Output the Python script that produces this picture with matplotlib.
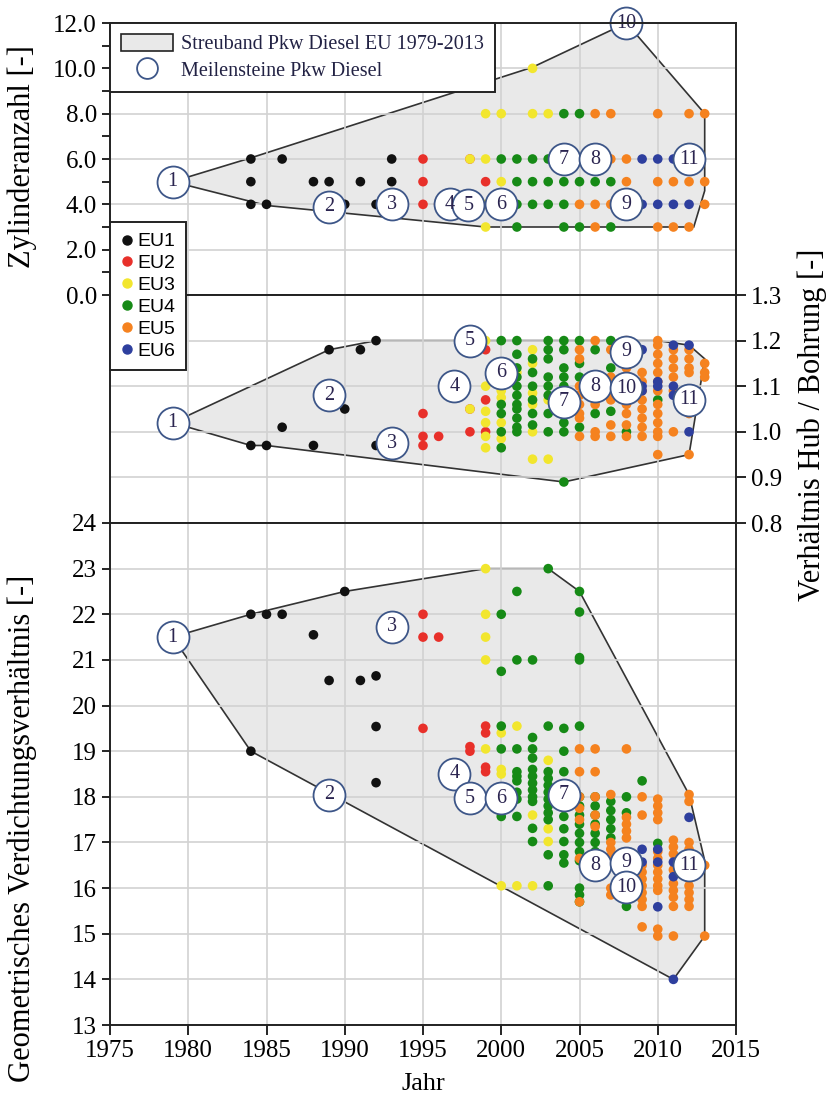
import matplotlib
matplotlib.use("Agg")
import matplotlib.pyplot as plt
from matplotlib.patches import Polygon, Patch
from matplotlib.lines import Line2D
import matplotlib.ticker as mticker

# ---------------- data ----------------
classes = ["EU1", "EU2", "EU3", "EU4", "EU5", "EU6"]
class_colors = ["#111111", "#e8302a", "#f2e62e", "#168a16", "#f5821f", "#2e3f9e"]

# Panel 1: Zylinderanzahl
cyl_eu1 = [(1984, 6), (1986, 6), (1993, 6), (1984, 5), (1988, 5), (1989, 5), (1991, 5), (1993, 5),
           (1984, 4), (1985, 4), (1990, 4), (1992, 4)]
cyl_eu2 = [(1995, 6), (1995, 5), (1995, 4), (1996, 4), (1999, 5), (1998, 6)]
cyl_eu3 = [(1998, 6), (1999, 6), (1999, 8), (2000, 8), (2002, 8), (2003, 8), (2002, 10), (2000, 5),
           (1999, 4), (1999, 3)]
cyl_eu4 = [(2000, 6), (2001, 6), (2002, 6), (2003, 6), (2005, 6), (2004, 8), (2005, 8), (2001, 5), (2002, 5),
           (2003, 5), (2004, 5), (2005, 5), (2006, 5), (2007, 5), (2001, 4), (2002, 4), (2003, 4), (2004, 4),
           (2001, 3), (2004, 3), (2005, 3), (2007, 3)]
cyl_eu5 = [(2006, 8), (2007, 8), (2010, 8), (2012, 8), (2013, 8), (2007, 6), (2008, 6), (2008, 5), (2010, 5),
           (2011, 5), (2012, 5), (2013, 5), (2005, 4), (2006, 4), (2007, 4), (2013, 4), (2006, 3), (2010, 3),
           (2011, 3), (2012, 3)]
cyl_eu6 = [(2009, 6), (2010, 6), (2011, 6), (2009, 4), (2010, 4), (2011, 4), (2012, 4)]
cyl_band = [(1979, 5), (1984, 6.05), (2002, 10.05), (2008, 12), (2013, 8), (2013, 4.6), (2012.3, 3),
            (1999, 3), (1985, 3.95)]
cyl_milestones = [(1979, 5), (1989, 3.9), (1993, 4), (1996.7, 4), (1997.9, 3.95), (2000, 4), (2004, 6),
                  (2006, 6), (2008, 4), (2008, 12), (2012, 6)]

# Panel 2: Hub / Bohrung
hb_eu1 = [(1989, 1.18), (1991, 1.18), (1992, 1.2), (1990, 1.05), (1986, 1.01), (1984, 0.97), (1985, 0.97),
          (1988, 0.97), (1992, 0.97)]
hb_eu2 = [(1995, 1.04), (1995, 0.99), (1995, 0.97), (1996, 0.99), (1998, 1.0), (1998, 1.05), (1999, 1.18),
          (1999, 1.07), (1999, 1.0)]
hb_eu3 = [(1998, 1.05), (1999, 1.2), (1999, 1.1), (1999, 1.045), (1999, 1.02), (1999, 0.99), (1999, 0.965),
          (2000, 1.09), (2000, 1.075), (2000, 1.02), (2000, 0.985), (2002, 1.18), (2002, 1.15), (2002, 1.085),
          (2002, 1.06), (2002, 1.0), (2002, 0.94), (2003, 1.07), (2003, 0.94), (2001, 1.13)]
hb_eu4 = [(2000, 1.2), (2000, 1.06), (2000, 1.04), (2000, 1.0), (2000, 0.965),
          (2001, 1.2), (2001, 1.17), (2001, 1.14), (2001, 1.12), (2001, 1.10), (2001, 1.08), (2001, 1.06),
          (2001, 1.05), (2001, 1.03), (2001, 1.01), (2001, 1.0),
          (2002, 1.16), (2002, 1.13), (2002, 1.1), (2002, 1.07), (2002, 1.04), (2002, 1.015),
          (2003, 1.2), (2003, 1.18), (2003, 1.16), (2003, 1.12), (2003, 1.10), (2003, 1.08), (2003, 1.04),
          (2003, 1.0),
          (2004, 1.2), (2004, 1.18), (2004, 1.14), (2004, 1.12), (2004, 1.10), (2004, 1.02), (2004, 1.0),
          (2004, 0.89),
          (2005, 1.2), (2005, 1.15), (2005, 1.12), (2005, 1.01), (2006, 1.18), (2006, 1.04),
          (2007, 1.2), (2007, 1.14), (2007, 1.045), (2008, 1.0), (2010, 1.07)]
hb_eu5 = [(2005, 1.18), (2005, 1.16), (2005, 1.10), (2005, 1.08), (2005, 1.06), (2005, 1.04), (2005, 1.03),
          (2005, 0.99),
          (2006, 1.2), (2006, 1.08), (2006, 1.06), (2006, 1.0), (2006, 0.99),
          (2007, 1.18), (2007, 1.12), (2007, 1.10), (2007, 1.08), (2007, 1.07), (2007, 1.015), (2007, 0.99),
          (2008, 1.2), (2008, 1.14), (2008, 1.06), (2008, 1.04), (2008, 1.015), (2008, 0.99),
          (2009, 1.13), (2009, 1.11), (2009, 1.09), (2009, 1.07), (2009, 1.05), (2009, 1.03), (2009, 1.01),
          (2009, 0.99),
          (2010, 1.2), (2010, 1.19), (2010, 1.17), (2010, 1.15), (2010, 1.13), (2010, 1.11), (2010, 1.09),
          (2010, 1.06), (2010, 1.04), (2010, 1.02), (2010, 1.0), (2010, 0.99), (2010, 0.95),
          (2011, 1.18), (2011, 1.16), (2011, 1.14), (2011, 1.12), (2011, 1.09), (2011, 1.0),
          (2012, 1.18), (2012, 1.16), (2012, 1.14), (2012, 1.13), (2012, 1.04), (2012, 0.95),
          (2013, 1.15), (2013, 1.13), (2013, 1.12)]
hb_eu6 = [(2009, 1.18), (2009, 1.10), (2009, 1.09), (2010, 1.10), (2010, 1.11), (2011, 1.19), (2011, 1.10),
          (2011, 1.08), (2012, 1.19), (2012, 1.0)]
hb_band = [(1979, 1.02), (1989, 1.18), (1992, 1.2), (2010, 1.2), (2012, 1.19), (2013, 1.16), (2012, 0.95),
           (2004, 0.89), (1985, 0.97), (1984, 0.97)]
hb_milestones = [(1979, 1.02), (1989, 1.08), (1993, 0.975), (1997, 1.1), (1998, 1.2), (2000, 1.13),
                 (2004, 1.066), (2006, 1.1), (2008, 1.176), (2008, 1.095), (2012, 1.07)]

# Panel 3: Verdichtungsverhältnis
ve_eu1 = [(1984, 22), (1985, 22), (1986, 22), (1990, 22.5), (1988, 21.55), (1989, 20.55), (1991, 20.55),
          (1992, 20.65), (1992, 19.54), (1992, 18.31), (1984, 19.0)]
ve_eu2 = [(1995, 22), (1995, 21.5), (1996, 21.5), (1995, 19.5), (1998, 19.0), (1998, 19.1), (1999, 19.55),
          (1999, 19.4), (1999, 18.65), (1999, 18.55)]
ve_eu3 = [(1999, 23), (1999, 22), (1999, 21.5), (1999, 21), (2001, 19.55), (1999, 19.05), (2000, 19.4),
          (2000, 18.6), (2000, 18.5), (2003, 18.8), (2002, 17.6), (2003, 17.3), (2003, 17.02), (2000, 16.05),
          (2001, 16.05), (2002, 16.05)]
ve_eu4 = [(2003, 23), (2001, 22.5), (2005, 22.5), (2000, 22), (2005, 22.05), (2001, 21), (2002, 21), (2005, 21),
          (2005, 21.05), (2000, 20.75), (2000, 19.55), (2003, 19.55), (2004, 19.5), (2005, 19.55),
          (2002, 19.3), (2000, 19.05), (2001, 19.05), (2002, 19.05), (2002, 18.85), (2004, 19.0), (2009, 18.35),
          (2001, 18.55), (2001, 18.45), (2001, 18.35), (2001, 18.1), (2001, 17.95), (2001, 17.57), (2000, 17.57),
          (2002, 18.6), (2002, 18.45), (2002, 18.3), (2002, 18.15), (2002, 18.0), (2002, 17.9), (2002, 17.31),
          (2002, 17.02),
          (2003, 18.55), (2003, 18.4), (2003, 18.25), (2003, 18.1), (2003, 17.95), (2003, 17.8), (2003, 17.65),
          (2003, 17.5), (2003, 16.73), (2003, 16.05),
          (2004, 18.55), (2004, 17.57), (2004, 17.3), (2004, 17.02), (2004, 16.73), (2004, 16.55),
          (2005, 18.0), (2005, 17.8), (2005, 17.6), (2005, 17.4), (2005, 17.2), (2005, 17.0), (2005, 16.8),
          (2005, 16.6), (2005, 16.0), (2005, 15.85), (2005, 15.7),
          (2006, 18.0), (2006, 17.8), (2006, 17.6), (2006, 17.4), (2006, 17.2), (2006, 17.0), (2006, 16.8),
          (2007, 17.9), (2007, 17.7), (2007, 17.5), (2007, 17.3), (2007, 17.1),
          (2008, 18.0), (2008, 17.65), (2008, 15.6), (2010, 16.98)]
ve_eu5 = [(2005, 19.05), (2005, 18.55), (2005, 18.0), (2005, 17.75), (2005, 17.5), (2005, 16.65), (2005, 15.7),
          (2006, 19.05), (2006, 18.55), (2006, 18.0), (2006, 17.6), (2006, 17.35), (2006, 16.3),
          (2007, 18.05), (2007, 17.0), (2007, 16.85), (2007, 16.7), (2007, 16.0), (2007, 15.85),
          (2008, 19.05), (2008, 17.55), (2008, 17.4), (2008, 17.25), (2008, 17.1),
          (2009, 18.0), (2009, 17.6), (2009, 16.5), (2009, 16.35), (2009, 16.2), (2009, 16.05), (2009, 15.9),
          (2009, 15.75), (2009, 15.6), (2009, 15.15),
          (2010, 17.95), (2010, 17.8), (2010, 17.65), (2010, 17.5), (2010, 16.8), (2010, 16.65), (2010, 16.5),
          (2010, 16.35), (2010, 16.2), (2010, 16.05), (2010, 15.95), (2010, 15.1), (2010, 14.95),
          (2011, 17.05), (2011, 16.9), (2011, 16.75), (2011, 16.4), (2011, 16.1), (2011, 15.95), (2011, 15.8),
          (2011, 15.6), (2011, 14.95),
          (2012, 18.05), (2012, 17.9), (2012, 17.0), (2012, 16.85), (2012, 16.7), (2012, 16.35), (2012, 16.2),
          (2012, 16.05), (2012, 15.9), (2012, 15.75), (2012, 15.6),
          (2013, 16.5), (2013, 14.95)]
ve_eu6 = [(2009, 16.85), (2009, 16.57), (2010, 16.85), (2010, 16.57), (2010, 15.59), (2011, 16.57),
          (2011, 16.25), (2011, 14.0), (2012, 17.55)]
ve_band = [(1979, 21.5), (1984, 22), (1990, 22.5), (1999, 23), (2003, 23), (2005, 22.5), (2012, 18.05),
           (2013, 16.6), (2013, 14.95), (2011, 14.0), (1984, 19.0)]
ve_milestones = [(1979, 21.5), (1989, 18.05), (1993, 21.73), (1997, 18.5), (1998, 17.97), (2000, 17.97),
                 (2004, 18.04), (2006, 16.5), (2008, 16.55), (2008, 16.02), (2012, 16.5)]

x_ticks = [1975, 1980, 1985, 1990, 1995, 2000, 2005, 2010, 2015]

# ---------------- figure ----------------
SERIF = ["Liberation Serif", "DejaVu Serif"]
SANS = ["Liberation Sans", "DejaVu Sans"]
plt.rcParams["font.family"] = SERIF
TICK_FS = 18
LABEL_FS = 22
ms_text = "#2b2550"
ms_edge = "#3d5688"
band_face = "#e9e9e9"
band_edge = "#333333"
grid_c = "#d2d2d2"

fig = plt.figure(figsize=(8.30, 11.06), dpi=100)
L, W = 110 / 830, 626 / 830
H = 1106
ax1 = fig.add_axes([L, 1 - 295 / H, W, 272 / H])
ax2 = fig.add_axes([L, 1 - 523 / H, W, 228 / H])
ax3 = fig.add_axes([L, 1 - 1025 / H, W, 502 / H])

panels = [
    (ax1, [cyl_eu1, cyl_eu2, cyl_eu3, cyl_eu4, cyl_eu5, cyl_eu6], cyl_band, cyl_milestones),
    (ax2, [hb_eu1, hb_eu2, hb_eu3, hb_eu4, hb_eu5, hb_eu6], hb_band, hb_milestones),
    (ax3, [ve_eu1, ve_eu2, ve_eu3, ve_eu4, ve_eu5, ve_eu6], ve_band, ve_milestones),
]

for ax, series, band, miles in panels:
    ax.set_xlim(1975, 2015)
    ax.set_xticks(x_ticks)
    ax.set_axisbelow(True)
    ax.grid(True, color=grid_c, lw=1.2, zorder=0.5)
    for sp in ax.spines.values():
        sp.set_linewidth(1.4)
        sp.set_color("#222222")
        sp.set_zorder(6)
    poly = Polygon(band, closed=True, facecolor=band_face, edgecolor=band_edge, lw=1.2, zorder=0.3)
    ax.add_patch(poly)
    for pts, col in zip(series, class_colors):
        xs = [p[0] for p in pts]
        ys = [p[1] for p in pts]
        ax.scatter(xs, ys, s=48, color=col, edgecolors="none", zorder=3)
    for i, (mx, my) in enumerate(miles, start=1):
        ax.plot([mx], [my], marker="o", ms=23, mfc="white", mec=ms_edge, mew=1.3, zorder=4, clip_on=False)
        ax.text(mx, my, str(i), ha="center", va="center", fontsize=14.5, color=ms_text, zorder=5,
                family=SERIF)

# top panel
ax1.set_ylim(0, 12)
ax1.set_yticks([0, 2, 4, 6, 8, 10, 12])
ax1.yaxis.set_minor_locator(mticker.MultipleLocator(1))
ax1.yaxis.set_major_formatter(mticker.FormatStrFormatter("%.1f"))
ax1.tick_params(axis="y", which="both", direction="out", length=6, width=1.2, labelsize=TICK_FS)
ax1.tick_params(axis="x", length=0, labelbottom=False)

# middle panel
ax2.set_ylim(0.8, 1.3)
ax2.set_yticks([0.8, 0.9, 1.0, 1.1, 1.2, 1.3])
ax2.yaxis.tick_right()
ax2.yaxis.set_major_formatter(mticker.FormatStrFormatter("%.1f"))
ax2.tick_params(axis="y", direction="out", length=7, width=1.2, labelsize=TICK_FS)
ax2.tick_params(axis="x", length=0, labelbottom=False)

# bottom panel
ax3.set_ylim(13, 24)
ax3.set_yticks(range(13, 25))
ax3.tick_params(axis="y", direction="out", length=6, width=1.2, labelsize=TICK_FS)
ax3.tick_params(axis="x", direction="out", length=7, width=1.2, labelsize=TICK_FS)
ax3.set_xlabel("Jahr", fontsize=19, labelpad=8)

# axis labels
fig.text(22 / 830, 1 - 157 / H, "Zylinderanzahl [-]", rotation=90, ha="center", va="center", fontsize=LABEL_FS)
fig.text(22 / 830, 1 - 828 / H, "Geometrisches Verdichtungsverhältnis [-]", rotation=90, ha="center",
         va="center", fontsize=LABEL_FS)
fig.text(812 / 830, 1 - 425 / H, "Verhältnis Hub / Bohrung [-]", rotation=90, ha="center", va="center",
         fontsize=LABEL_FS)

# legend 1
h1 = [Patch(facecolor=band_face, edgecolor="#222222", lw=1.2),
      Line2D([], [], ls="none", marker="o", ms=15, mfc="white", mec=ms_edge, mew=1.3)]
leg1 = ax1.legend(h1, ["Streuband Pkw Diesel EU 1979-2013", "Meilensteine Pkw Diesel"],
                  loc="upper left", bbox_to_anchor=(0, 1), borderaxespad=0, frameon=True, fancybox=False,
                  edgecolor="#222222", framealpha=1, prop={"family": SERIF, "size": 14.5},
                  handlelength=2.6, handleheight=0.9, handletextpad=0.4, labelspacing=0.3,
                  borderpad=0.55, labelcolor="#222244")
leg1.get_frame().set_linewidth(1.4)
leg1.set_zorder(7)

# legend 2 (EU classes) spanning two panels
h2 = [Line2D([], [], ls="none", marker="o", ms=6.5, mfc=c, mec=c) for c in class_colors]
leg2 = fig.legend(h2, classes, loc="upper left", bbox_to_anchor=(L, 1 - 222 / H), borderaxespad=0,
                  frameon=True, fancybox=False, edgecolor="#222222", framealpha=1,
                  prop={"family": SANS, "size": 14}, handlelength=0.6, handletextpad=0.25,
                  labelspacing=0.22, borderpad=0.55)
leg2.get_frame().set_linewidth(1.4)
leg2.set_zorder(10)

fig.savefig("out.png", dpi=100)
